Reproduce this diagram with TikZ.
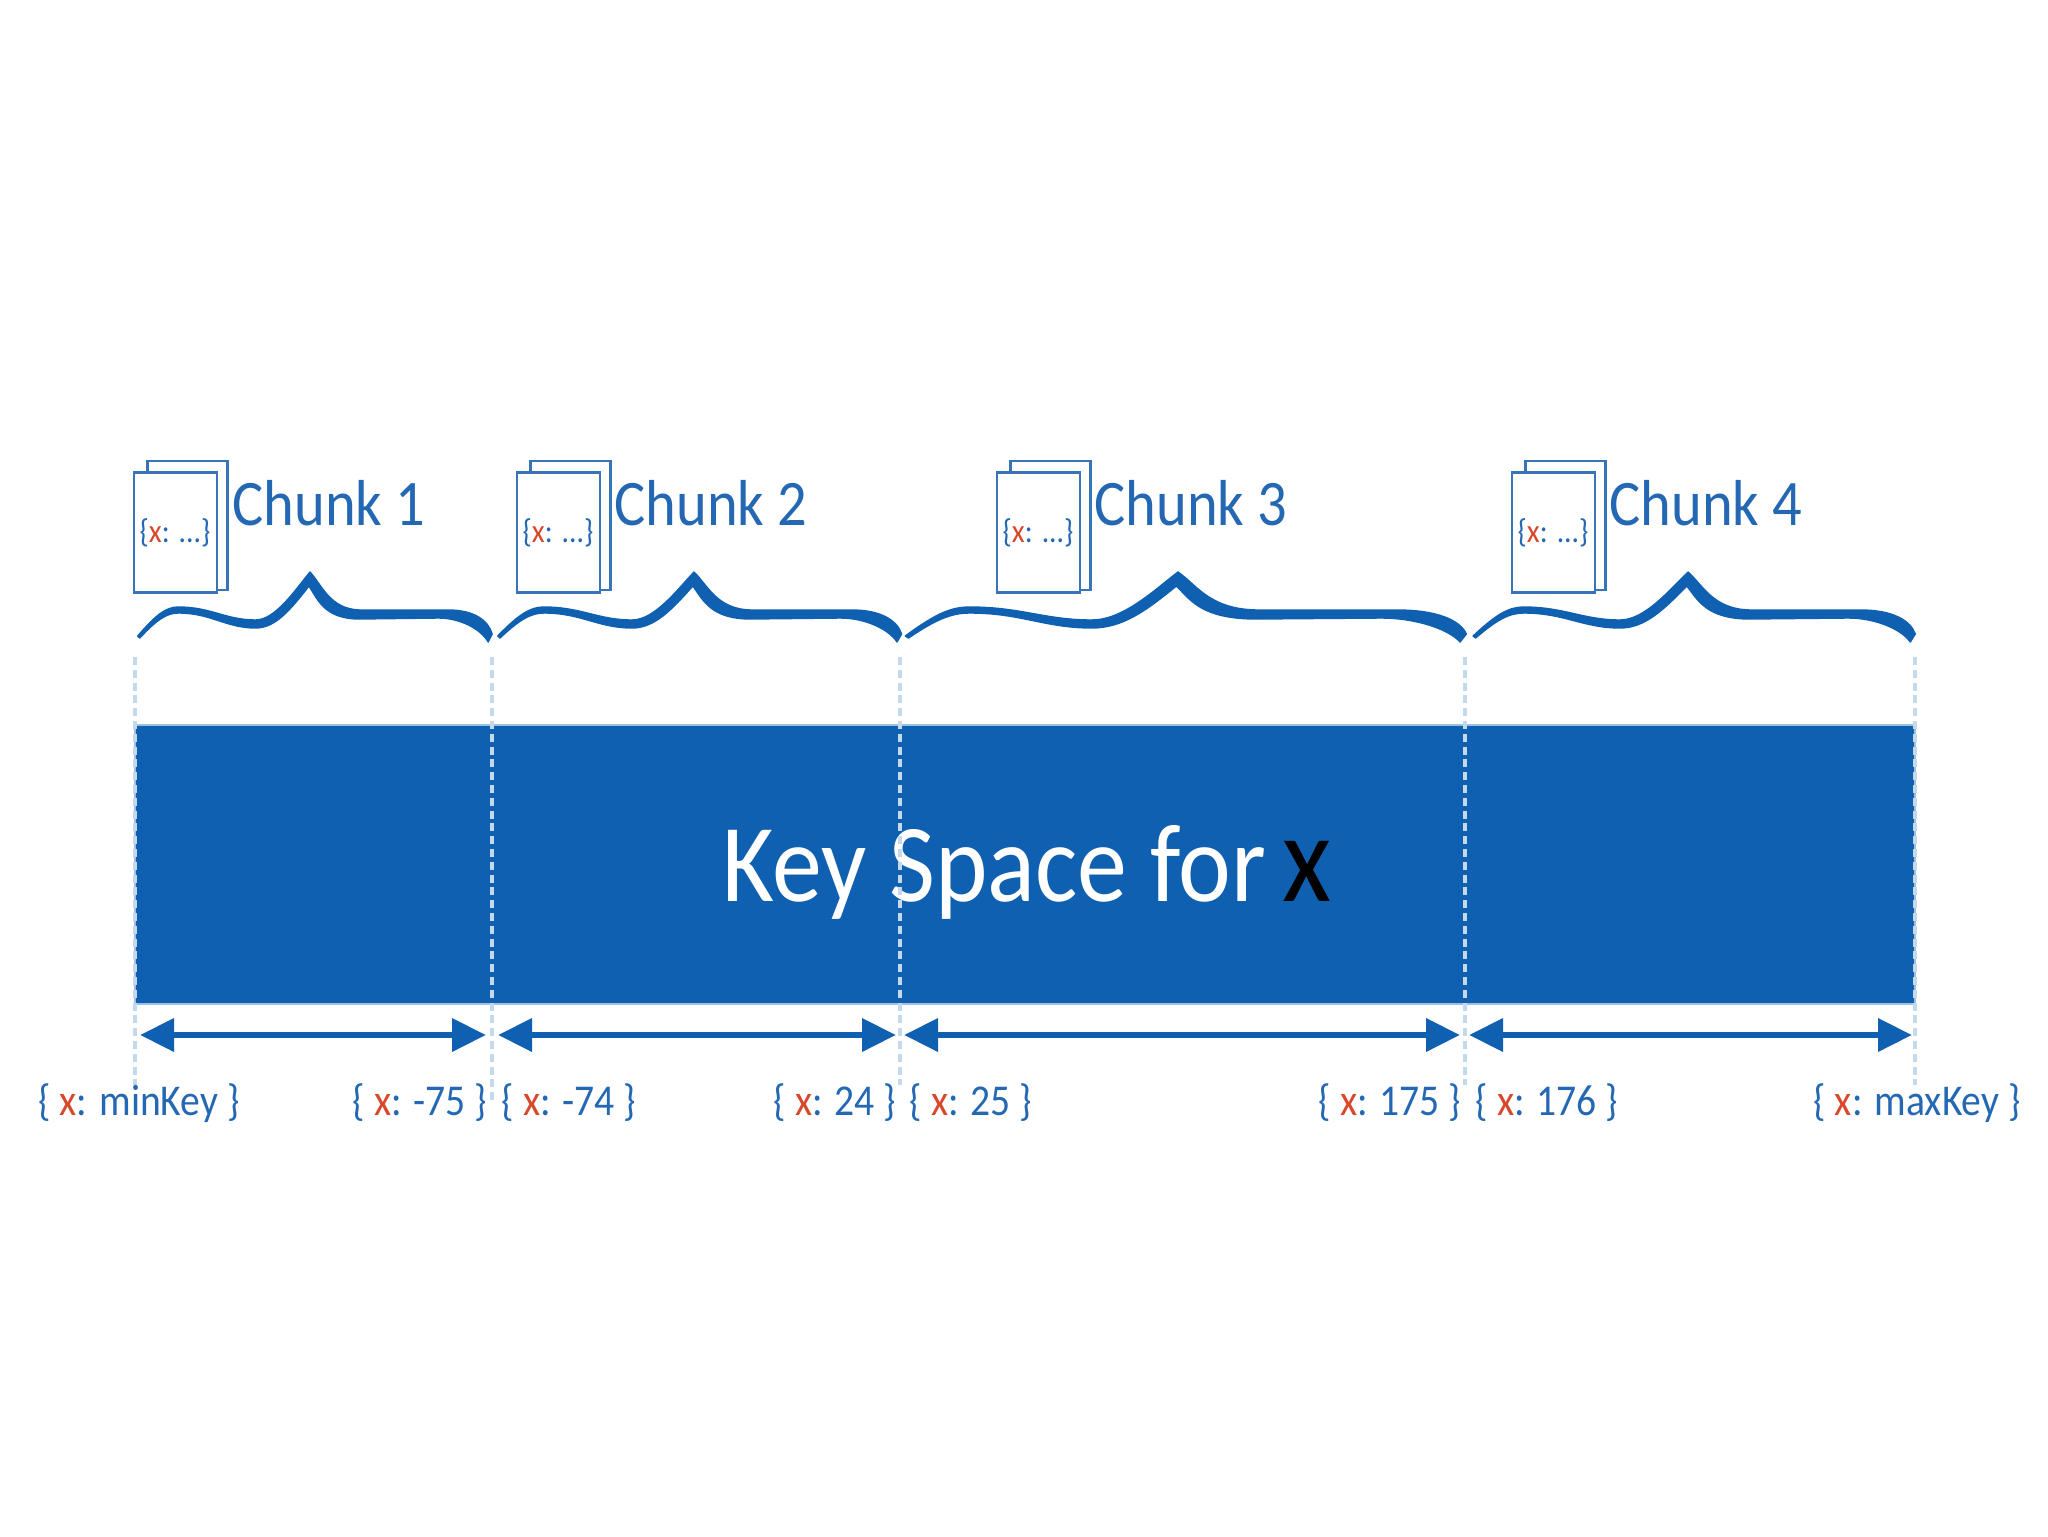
\documentclass[tikz,border=0pt]{standalone}
\usepackage{fontspec}
\setmainfont[FakeStretch=0.9]{Carlito}
\usetikzlibrary{positioning,arrows.meta}

\definecolor{keyblue}{HTML}{0F60B0}
\definecolor{textblue}{HTML}{2468B4}
\definecolor{docblue}{HTML}{3A74B8}
\definecolor{keyred}{HTML}{D9482B}
\definecolor{dashblue}{HTML}{C4D9EC}
\definecolor{edgeblue}{HTML}{9DC0E4}

\tikzset{
    docback/.style={draw=docblue,line width=1.1pt,fill=white,minimum width=40pt,minimum height=64.5pt,inner sep=0pt},
    docfront/.style={draw=docblue,line width=1.1pt,fill=white,minimum width=41.5pt,minimum height=60pt,inner sep=0pt,text=textblue,font=\fontsize{16.5}{16.5}\selectfont},
    chunklabel/.style={anchor=base west,inner sep=0pt,text=textblue,font=\fontsize{32.5}{32.5}\selectfont},
    keylabel/.style={anchor=base,inner sep=0pt,text=textblue,font=\fontsize{22}{22}\selectfont},
    keybar/.style={draw=edgeblue,line width=1pt,fill=keyblue,minimum width=890pt,minimum height=139.5pt,inner sep=0pt},
    divider/.style={draw=dashblue,line width=1.6pt,dash pattern=on 4pt off 2.4pt},
    keyrange/.style={draw=keyblue,line width=3.4pt,{Triangle[length=17pt,width=16pt]}-{Triangle[length=17pt,width=16pt]}},
}

\newcommand{\redx}{\textcolor{keyred}{x}}
\newcommand{\chunkbrace}[2]{%
    \filldraw[keyblue,line width=0.7pt,line join=round,shift={(#1,0)},xscale=#2]
        (-174,636) .. controls (-155,614) and (-145,607) .. (-133,607)
        .. controls (-100,607) and (-85,620) .. (-55,620)
        .. controls (-35,620) and (-15,590) .. (0,572)
        .. controls (12,585) and (20,609) .. (50,610)
        -- (140,610) .. controls (165,610) and (180,620) .. (184,634)
        -- (180,642) .. controls (172,628) and (150,618) .. (130,618)
        -- (50,619) .. controls (15,619) and (8,600) .. (-1,586)
        .. controls (-20,610) and (-35,628) .. (-55,628)
        .. controls (-85,628) and (-100,613) .. (-133,613)
        .. controls (-145,613) and (-155,620) .. (-172,638) -- cycle;
}

\begin{document}
\begin{tikzpicture}[x=0.5pt,y=-0.5pt]
    \useasboundingbox (0,0) rectangle (2048,1536);

    \node[keybar] (bar) at (1025,864.5) {};
    \node[anchor=base west,inner sep=0pt,text=white,font=\fontsize{55.5}{55.5}\selectfont] (title) at (722,901)
        {Key Space for\hspace{8pt}\textcolor{black}{\fontsize{63}{63}\selectfont x}};

    % chunk boundaries
    \coordinate (d0t) at (135,657);  \coordinate (d0b) at (135,1085);
    \coordinate (d1t) at (492,657);  \coordinate (d1b) at (492,1100);
    \coordinate (d2t) at (900,657);  \coordinate (d2b) at (900,1085);
    \coordinate (d3t) at (1465,657); \coordinate (d3b) at (1465,1085);
    \coordinate (d4t) at (1915,657); \coordinate (d4b) at (1915,1085);
    \draw[divider] (d0t) -- (d0b);
    \draw[divider] (d1t) -- (d1b);
    \draw[divider] (d2t) -- (d2b);
    \draw[divider] (d3t) -- (d3b);
    \draw[divider] (d4t) -- (d4b);

    % ranges
    \coordinate (r1a) at (140,1035);  \coordinate (r1b) at (486,1035);
    \coordinate (r2a) at (498,1035);  \coordinate (r2b) at (896,1035);
    \coordinate (r3a) at (904,1035);  \coordinate (r3b) at (1460,1035);
    \coordinate (r4a) at (1469,1035); \coordinate (r4b) at (1912,1035);
    \draw[keyrange] (r1a) -- (r1b);
    \draw[keyrange] (r2a) -- (r2b);
    \draw[keyrange] (r3a) -- (r3b);
    \draw[keyrange] (r4a) -- (r4b);

    \node[keylabel] (min1) at (139,1115)  {\{ \redx: minKey \}};
    \node[keylabel] (max1) at (420,1115)  {\{ \redx: -75 \}};
    \node[keylabel] (min2) at (569,1115)  {\{ \redx: -74 \}};
    \node[keylabel] (max2) at (835,1115)  {\{ \redx: 24 \}};
    \node[keylabel] (min3) at (971,1115)  {\{ \redx: 25 \}};
    \node[keylabel] (max3) at (1390,1115) {\{ \redx: 175 \}};
    \node[keylabel] (min4) at (1547,1115) {\{ \redx: 176 \}};
    \node[keylabel] (max4) at (1917,1115) {\{ \redx: maxKey \}};

    % chunks
    \chunkbrace{310}{0.99}
    \chunkbrace{694}{1.128}
    \chunkbrace{1178}{1.567}
    \chunkbrace{1688}{1.235}

    \node[docback] (back1) at (187.5,525.5) {};
    \node[docfront,xshift=-6.2pt,yshift=-3.5pt] (doc1) at (back1) {\raisebox{2pt}{\{\redx: ...\}}};
    \node[chunklabel] (chunk1) at (232,525) {Chunk 1};

    \node[docback] (back2) at (570.5,525.5) {};
    \node[docfront,xshift=-6.2pt,yshift=-3.5pt] (doc2) at (back2) {\raisebox{2pt}{\{\redx: ...\}}};
    \node[chunklabel] (chunk2) at (614,525) {Chunk 2};

    \node[docback] (back3) at (1050.5,525.5) {};
    \node[docfront,xshift=-6.2pt,yshift=-3.5pt] (doc3) at (back3) {\raisebox{2pt}{\{\redx: ...\}}};
    \node[chunklabel] (chunk3) at (1094,525) {Chunk 3};

    \node[docback] (back4) at (1565.5,525.5) {};
    \node[docfront,xshift=-6.2pt,yshift=-3.5pt] (doc4) at (back4) {\raisebox{2pt}{\{\redx: ...\}}};
    \node[chunklabel] (chunk4) at (1609,525) {Chunk 4};
\end{tikzpicture}
\end{document}
